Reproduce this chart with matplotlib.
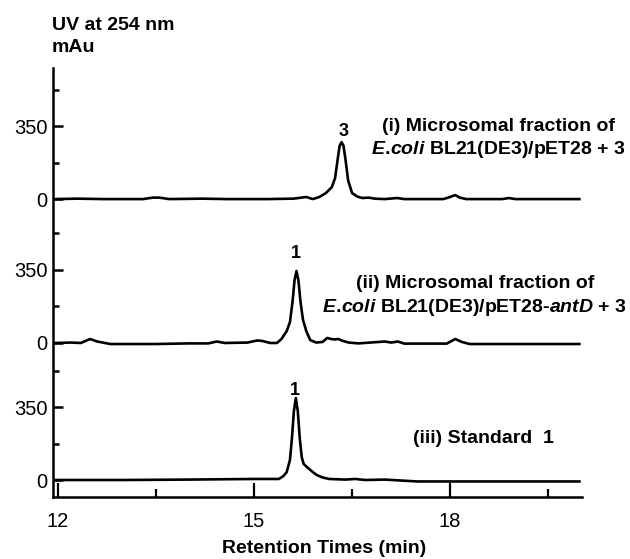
import matplotlib
matplotlib.use("Agg")
import matplotlib.pyplot as plt
import numpy as np

plt.rcParams['font.family'] = ['Liberation Sans', 'DejaVu Sans']
plt.rcParams['mathtext.fontset'] = 'custom'
plt.rcParams['mathtext.it'] = 'Liberation Sans:italic:bold'
plt.rcParams['mathtext.rm'] = 'Liberation Sans:bold'

# Trace (i): microsomal fraction pET28 + 3  (time in min, signal in mAU)
t_i = [11.95, 12.3, 12.7, 13.3, 13.45, 13.55, 13.7, 14.2, 14.6, 15.2, 15.6, 15.8,
       15.9, 16.0, 16.1, 16.19, 16.24, 16.28, 16.31, 16.34, 16.37, 16.4, 16.44,
       16.5, 16.58, 16.66, 16.75, 16.85, 17.0, 17.19, 17.3, 17.9, 18.0, 18.08,
       18.15, 18.25, 18.8, 18.9, 19.0, 20.0]
uv_i = [0, 2, 0, 0, 7, 7, 0, 2, 0, 0, 2, 10,
        0, 10, 29, 57, 100, 190, 255, 273, 255, 190, 90,
        29, 12, 5, 7, 2, 0, 5, 0, 0, 10, 19,
        7, 0, 0, 5, 0, 0]

# Trace (ii): microsomal fraction pET28-antD + 3
t_ii = [11.95, 12.2, 12.35, 12.49, 12.6, 12.8, 13.5, 14.0, 14.3, 14.43, 14.55, 14.9,
        15.05, 15.12, 15.25, 15.35, 15.42, 15.5, 15.55, 15.59, 15.62, 15.65, 15.68,
        15.71, 15.75, 15.8, 15.86, 15.95, 16.05, 16.12, 16.18, 16.23, 16.29, 16.36,
        16.45, 16.6, 17.0, 17.1, 17.2, 17.3, 17.95, 18.08, 18.18, 18.3, 20.0]
uv_ii = [0, 2, 0, 19, 7, -5, -5, -2, -2, 7, 0, 2,
         12, 10, 0, 0, 19, 57, 100, 200, 300, 345, 300,
         200, 110, 57, 14, 2, 5, 24, 19, 17, 19, 10,
         2, -2, 7, 2, 7, -3, -3, 19, 5, -5, -5]

# Trace (iii): standard 1
t_iii = [11.95, 13.0, 14.0, 15.0, 15.38, 15.45, 15.5, 15.55, 15.58, 15.61, 15.64,
         15.67, 15.7, 15.73, 15.76, 15.81, 15.9, 15.96, 16.05, 16.15, 16.4, 16.55,
         16.7, 17.0, 17.5, 20.0]
uv_iii = [0, 0, 2, 5, 5, 19, 38, 96, 200, 330, 393,
          330, 200, 110, 77, 62, 38, 24, 12, 5, 2, 5,
          0, 2, -7, -7]

offsets = [1347, 657, 0]
peak_labels = ['3', '1', '1']
peak_pos = [(16.37, 1673), (15.64, 1088), (15.63, 431)]
sample_labels = [
    "(i) Microsomal fraction of\n$\\mathit{E.}\\!\\mathit{coli}$ BL21(DE3)/pET28 + 3",
    "(ii) Microsomal fraction of\n$\\mathit{E.}\\!\\mathit{coli}$ BL21(DE3)/pET28-$\\mathit{antD}$ + 3",
    "(iii) Standard  1",
]
sample_pos = [(18.74, 1635), (18.38, 880), (18.51, 201)]

xticks = [12, 15, 18]
xminor = [13.5, 16.5, 19.5]

fig = plt.figure(figsize=(6.3, 5.59), dpi=100)
ax = fig.add_axes([53 / 630, 62 / 559, 529 / 630, 429 / 559])

for t, v, off in zip([t_i, t_ii, t_iii], [uv_i, uv_ii, uv_iii], offsets):
    ax.plot(t, np.array(v) + off, color='black', lw=1.9,
            solid_joinstyle='round', solid_capstyle='butt')

for lab, (x, y) in zip(peak_labels, peak_pos):
    ax.text(x, y, lab, ha='center', va='center', fontsize=13, fontweight='bold')

for lab, (x, y) in zip(sample_labels, sample_pos):
    ax.text(x, y, lab, ha='center', va='center', multialignment='center',
            fontsize=14, fontweight='bold', linespacing=1.3)

ax.set_xlim(11.923, 20.02)
ax.set_ylim(-81.5, 1975.5)

yt = []
ylab = []
ymin = []
for off in offsets:
    yt += [off, off + 350]
    ylab += ['0', '350']
    ymin += [off + 175, off + 525]
ax.set_yticks(yt, ylab)
ax.set_yticks(ymin, minor=True)
ax.set_xticks(xticks, [str(x) for x in xticks])
ax.set_xticks(xminor, minor=True)

ax.tick_params(axis='x', which='major', direction='in', length=10, width=1.6,
               labelsize=14.5, pad=11)
ax.tick_params(axis='x', which='minor', direction='in', length=6, width=1.6)
ax.tick_params(axis='y', which='major', direction='in', length=7.5, width=1.8,
               labelsize=14.5, pad=4)
ax.tick_params(axis='y', which='minor', direction='in', length=4, width=1.8)

for s in ['top', 'right']:
    ax.spines[s].set_visible(False)
for s in ['left', 'bottom']:
    ax.spines[s].set_linewidth(1.8)

ax.set_xlabel('Retention Times (min)', fontsize=14, fontweight='bold', va='center')
ax.xaxis.set_label_coords(0.512, -0.119)

fig.text(52 / 630, 1 - 25 / 559, 'UV at 254 nm', fontsize=14, fontweight='bold',
         ha='left', va='center')
fig.text(52 / 630, 1 - 47 / 559, 'mAu', fontsize=14, fontweight='bold',
         ha='left', va='center')

fig.savefig('out.png', dpi=100)
